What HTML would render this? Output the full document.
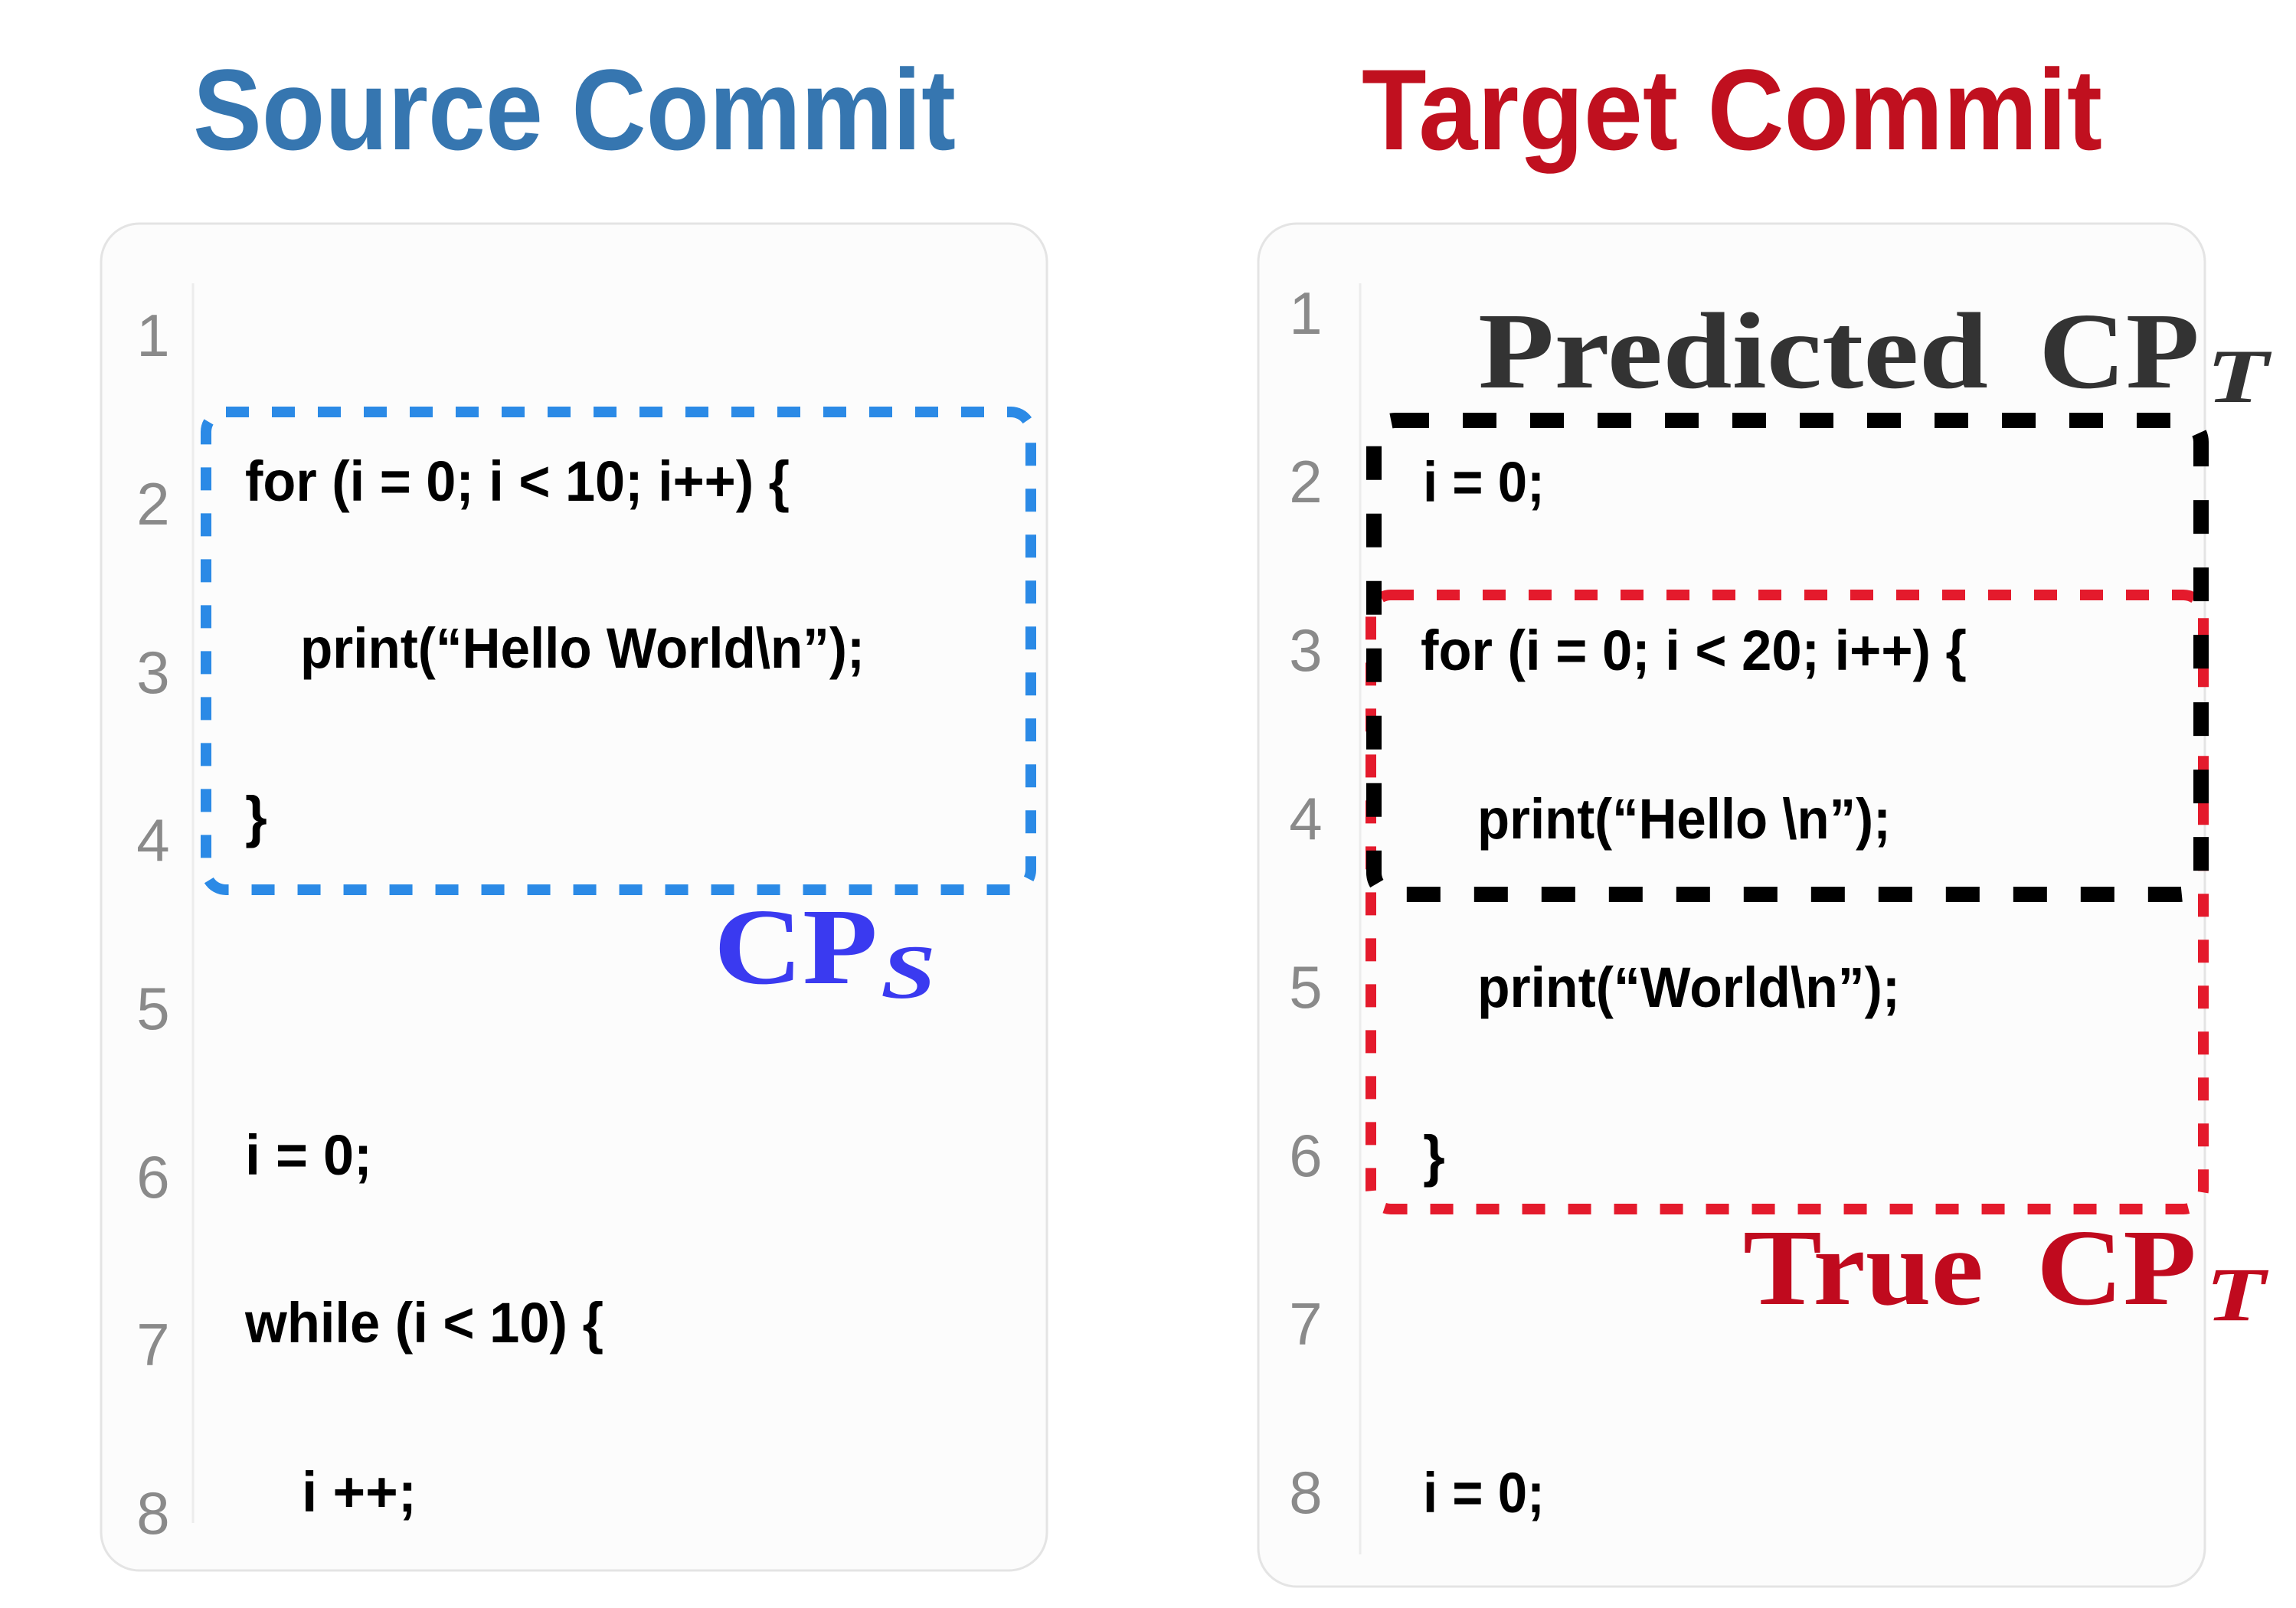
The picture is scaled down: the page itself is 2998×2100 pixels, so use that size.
<!DOCTYPE html>
<html><head><meta charset="utf-8"><style>
html,body{margin:0;padding:0;background:#fff;}
svg{display:block;}
.num{font-family:"Liberation Sans",sans-serif;font-size:78px;fill:#8a8a8a;}
.code{font-family:"Liberation Sans",sans-serif;font-size:74px;fill:#000;font-weight:bold;}
.ttl{font-family:"Liberation Sans",sans-serif;font-size:150px;font-weight:bold;}
.ser{font-family:"Liberation Serif",serif;font-size:142px;font-weight:bold;}
.sub{font-family:"Liberation Serif",serif;font-size:100px;font-style:italic;font-weight:bold;}
</style></head><body>
<svg width="2998" height="2100" viewBox="0 0 2998 2100" xmlns="http://www.w3.org/2000/svg">
<rect width="2998" height="2100" fill="#fff"/>
<text class="ttl" x="252" y="195" fill="#3676b0" textLength="996" lengthAdjust="spacingAndGlyphs">Source Commit</text>
<text class="ttl" x="1778" y="195" fill="#c0101f" textLength="967" lengthAdjust="spacingAndGlyphs">Target Commit</text>

<rect x="132" y="292" width="1235" height="1759" rx="50" fill="#fcfcfc" stroke="#e4e4e4" stroke-width="3"/>
<rect x="1643" y="292" width="1236" height="1780" rx="50" fill="#fcfcfc" stroke="#e4e4e4" stroke-width="3"/>
<line x1="252" y1="370" x2="252" y2="1989" stroke="#ececec" stroke-width="3"/>
<line x1="1776" y1="370" x2="1776" y2="2030" stroke="#ececec" stroke-width="3"/>

<g class="num" text-anchor="middle">
<text x="200" y="465">1</text><text x="200" y="685">2</text><text x="200" y="905">3</text><text x="200" y="1124">4</text>
<text x="200" y="1344">5</text><text x="200" y="1564">6</text><text x="200" y="1783">7</text><text x="200" y="2003">8</text>
<text x="1705" y="436">1</text><text x="1705" y="656">2</text><text x="1705" y="876">3</text><text x="1705" y="1096">4</text>
<text x="1705" y="1316">5</text><text x="1705" y="1536">6</text><text x="1705" y="1756">7</text><text x="1705" y="1976">8</text>
</g>

<g class="code">
<text x="320" y="654" textLength="711" lengthAdjust="spacingAndGlyphs">for (i = 0; i &lt; 10; i++) {</text>
<text x="392" y="872" textLength="737" lengthAdjust="spacingAndGlyphs">print(“Hello World\n”);</text>
<text x="320" y="1092">}</text>
<text x="320" y="1534" textLength="166" lengthAdjust="spacingAndGlyphs">i = 0;</text>
<text x="320" y="1753" textLength="468" lengthAdjust="spacingAndGlyphs">while (i &lt; 10) {</text>
<text x="394" y="1974" textLength="150" lengthAdjust="spacingAndGlyphs">i ++;</text>

<text x="1858" y="655" textLength="159" lengthAdjust="spacingAndGlyphs">i = 0;</text>
<text x="1855" y="875" textLength="713" lengthAdjust="spacingAndGlyphs">for (i = 0; i &lt; 20; i++) {</text>
<text x="1929" y="1095" textLength="540" lengthAdjust="spacingAndGlyphs">print(“Hello \n”);</text>
<text x="1929" y="1315" textLength="552" lengthAdjust="spacingAndGlyphs">print(“World\n”);</text>
<text x="1858" y="1535">}</text>
<text x="1858" y="1975" textLength="159" lengthAdjust="spacingAndGlyphs">i = 0;</text>
</g>

<rect x="269" y="538" width="1077" height="624" rx="26" fill="none" stroke="#2b8ae6" stroke-width="14" stroke-dasharray="30 30"/>
<rect x="1790" y="777" width="1087" height="802" rx="26" fill="none" stroke="#e41a2c" stroke-width="14" stroke-dasharray="30 30"/>
<rect x="1794" y="549" width="1080" height="619" rx="28" fill="none" stroke="#000" stroke-width="20" stroke-dasharray="44 44"/>

<text class="ser" x="932" y="1284" fill="#3a3af0" textLength="214" lengthAdjust="spacingAndGlyphs">CP</text>
<text class="sub" x="1150" y="1303" fill="#3a3af0" textLength="72" lengthAdjust="spacingAndGlyphs">S</text>

<text class="ser" x="1930" y="506" fill="#333" textLength="666" lengthAdjust="spacingAndGlyphs">Predicted</text>
<text class="ser" x="2662" y="506" fill="#333" textLength="210" lengthAdjust="spacingAndGlyphs">CP</text>
<text class="sub" x="2881" y="525" fill="#333" textLength="81" lengthAdjust="spacingAndGlyphs">T</text>

<text class="ser" x="2276" y="1703" fill="#c00a1e" textLength="314" lengthAdjust="spacingAndGlyphs">True</text>
<text class="ser" x="2659" y="1703" fill="#c00a1e" textLength="209" lengthAdjust="spacingAndGlyphs">CP</text>
<text class="sub" x="2880" y="1724" fill="#c00a1e" textLength="78" lengthAdjust="spacingAndGlyphs">T</text>
</svg>
</body></html>
